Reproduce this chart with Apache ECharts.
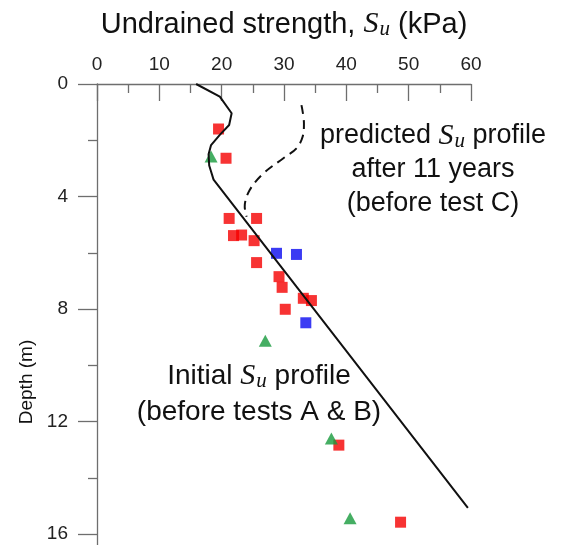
<!DOCTYPE html>
<html>
<head>
<meta charset="utf-8">
<script src="https://cdn.jsdelivr.net/npm/echarts@6/dist/echarts.min.js"></script>
<style>
  html, body { margin: 0; padding: 0; background: #fff; }
  #chart { width: 570px; height: 545px; }
</style>
</head>
<body>
<div id="chart"></div>
<script>
// Undrained shear strength (kPa) against depth (m)
const depthMajorTicks = [0, 4, 8, 12, 16];
const depthMinorTicks = [2, 6, 10, 14];

// [Su (kPa), depth (m)]
const initialProfile = [
  [15.9, 0], [19.7, 0.45], [21.6, 1.04], [21.2, 1.46], [19.7, 1.81],
  [18.3, 2.17], [17.9, 2.5], [18.0, 2.9], [18.7, 3.4], [59.5, 15.07]
];
const predictedProfile = [
  [32.8, 0.75], [33.2, 1.4], [33.0, 1.87], [32.0, 2.29], [29.9, 2.64],
  [26.7, 3.18], [24.5, 3.77], [23.7, 4.36], [24.0, 4.72]
];
const redTests = [
  [19.5, 1.6], [20.7, 2.64], [21.2, 4.78], [25.6, 4.78], [21.9, 5.39],
  [23.2, 5.37], [25.2, 5.57], [25.6, 6.35], [29.2, 6.85], [29.7, 7.23],
  [33.1, 7.62], [34.4, 7.7], [30.2, 8.01], [38.8, 12.84], [48.7, 15.58]
];
const blueTests = [[28.8, 6.02], [32.0, 6.06], [33.5, 8.49]];
const greenTests = [[18.3, 2.58], [27.0, 9.13], [37.6, 12.6], [40.6, 15.44]];

const sansFont = '"Liberation Sans", Arial, sans-serif';
const mathStyle = {
  S: { fontFamily: '"Liberation Serif", serif', fontStyle: 'italic', fontSize: 30, color: '#111' },
  u: { fontFamily: '"Liberation Serif", serif', fontStyle: 'italic', fontSize: 21, color: '#111', padding: [10, 0, 0, 1] }
};

const chart = echarts.init(document.getElementById('chart'), null, { renderer: 'canvas' });

const axisGray = '#6e6e6e';

chart.setOption({
  animation: false,
  backgroundColor: '#fff',
  grid: {
    left: 97, top: 84, width: 374, height: 461.25,
    containLabel: false, outerBoundsMode: 'none'
  },
  xAxis: {
    type: 'value',
    position: 'top',
    min: 0, max: 60, interval: 10,
    name: 'Undrained strength, {S|S}{u|u} (kPa)',
    nameLocation: 'middle',
    nameGap: 44,
    nameTextStyle: { fontFamily: sansFont, fontSize: 29, color: '#111', rich: mathStyle },
    axisLine: { lineStyle: { color: axisGray, width: 1.3 } },
    axisTick: { inside: true, length: 17, lineStyle: { color: axisGray, width: 1.3 } },
    minorTick: { show: true, splitNumber: 2, length: 9, lineStyle: { color: axisGray, width: 1.3 } },
    axisLabel: { fontFamily: sansFont, fontSize: 19, color: '#222', margin: 10 },
    splitLine: { show: false }
  },
  yAxis: [
    {
      type: 'value', inverse: true, min: 0, max: 16.4, position: 'left',
      axisLine: { lineStyle: { color: axisGray, width: 1.3 } },
      axisTick: { customValues: depthMinorTicks, length: 9, lineStyle: { color: axisGray, width: 1.3 } },
      axisLabel: { show: false },
      splitLine: { show: false }
    },
    {
      type: 'value', inverse: true, min: 0, max: 16.4, position: 'left', offset: 0,
      axisLine: { show: false },
      axisTick: { customValues: depthMajorTicks, length: 19, lineStyle: { color: axisGray, width: 1.3 } },
      axisLabel: { customValues: depthMajorTicks, fontFamily: sansFont, fontSize: 19, color: '#222', margin: 29 },
      splitLine: { show: false }
    }
  ],
  graphic: [
    {
      type: 'text', x: 27, y: 382, rotation: Math.PI / 2,
      style: { text: 'Depth (m)', font: '19px ' + sansFont, fill: '#111', align: 'center', verticalAlign: 'middle' }
    },
    {
      type: 'text', x: 433, y: 170,
      style: {
        text: 'predicted {S|S}{u|u} profile\nafter 11 years\n(before test C)',
        font: '27px ' + sansFont, fill: '#111', align: 'center', verticalAlign: 'middle',
        lineHeight: 34, rich: mathStyle
      }
    },
    {
      type: 'text', x: 259, y: 394,
      style: {
        text: 'Initial {S|S}{u|u} profile\n(before tests A & B)',
        font: '28px ' + sansFont, fill: '#111', align: 'center', verticalAlign: 'middle',
        lineHeight: 36, rich: mathStyle
      }
    }
  ],
  series: [
    {
      name: 'red', type: 'scatter', data: redTests, symbol: 'rect', symbolSize: 11,
      itemStyle: { color: '#f50000' }
    },
    {
      name: 'blue', type: 'scatter', data: blueTests, symbol: 'rect', symbolSize: 11,
      itemStyle: { color: '#0a0af0' }
    },
    {
      name: 'green', type: 'scatter', data: greenTests, symbol: 'triangle', symbolSize: [13, 12],
      itemStyle: { color: '#179a3c' }
    },
    {
      name: 'predicted', type: 'line', data: predictedProfile, showSymbol: false, smooth: 0.35,
      lineStyle: { color: '#111', width: 2, type: [9, 6] }
    },
    {
      name: 'initial', type: 'line', data: initialProfile, showSymbol: false, smooth: false,
      lineStyle: { color: '#111', width: 2 }
    }
  ]
});
</script>
</body>
</html>
